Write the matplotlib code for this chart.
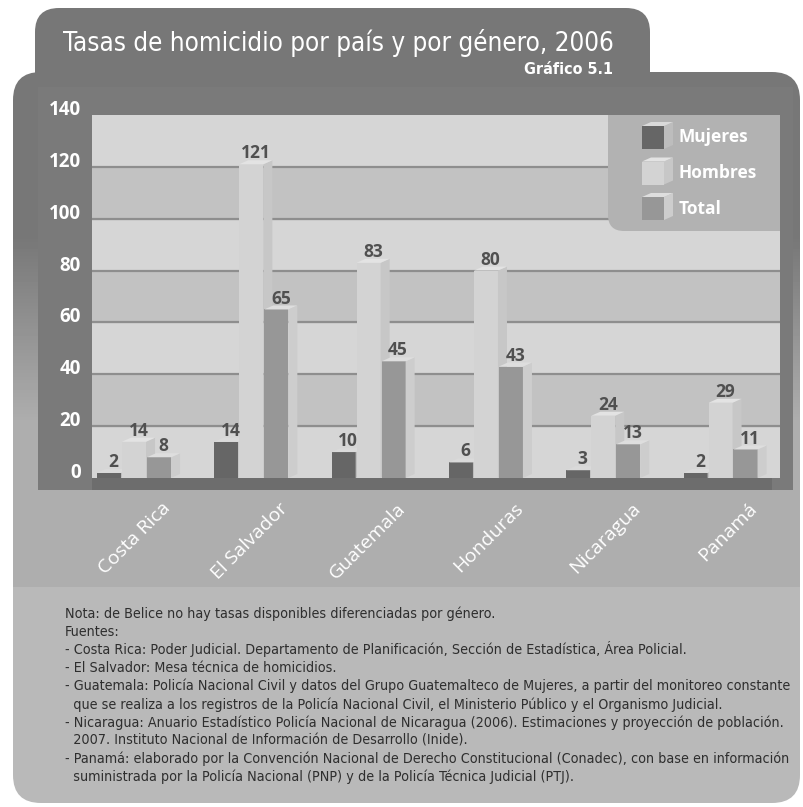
import numpy as np
import matplotlib
matplotlib.use("Agg")
import matplotlib.pyplot as plt
from matplotlib.patches import Rectangle, Polygon, FancyBboxPatch

# datos del gráfico
paises = ["Costa Rica", "El Salvador", "Guatemala", "Honduras", "Nicaragua", "Panamá"]
mujeres = [2, 14, 10, 6, 3, 2]
hombres = [14, 121, 83, 80, 24, 29]
total = [8, 65, 45, 43, 13, 11]
series = ["Mujeres", "Hombres", "Total"]
yticks = [0, 20, 40, 60, 80, 100, 120, 140]

titulo = "Tasas de homicidio por país y por género, 2006"
subtitulo = "Gráfico 5.1"
notas = [
    "Nota: de Belice no hay tasas disponibles diferenciadas por género.",
    "Fuentes:",
    "- Costa Rica: Poder Judicial. Departamento de Planificación, Sección de Estadística, Área Policial.",
    "- El Salvador: Mesa técnica de homicidios.",
    "- Guatemala: Policía Nacional Civil y datos del Grupo Guatemalteco de Mujeres, a partir del monitoreo constante",
    "  que se realiza a los registros de la Policía Nacional Civil, el Ministerio Público y el Organismo Judicial.",
    "- Nicaragua: Anuario Estadístico Policía Nacional de Nicaragua (2006). Estimaciones y proyección de población.",
    "  2007. Instituto Nacional de Información de Desarrollo (Inide).",
    "- Panamá: elaborado por la Convención Nacional de Derecho Constitucional (Conadec), con base en información",
    "  suministrada por la Policía Nacional (PNP) y de la Policía Técnica Judicial (PTJ).",
]

# colores (frente, lado, tapa)
col_front = {"Mujeres": "#666666", "Hombres": "#d3d3d3", "Total": "#979797"}
col_side = {"Mujeres": "#bdbdbd", "Hombres": "#c7c7c7", "Total": "#cdcdcd"}
col_top = {"Mujeres": "#dadada", "Hombres": "#e3e3e3", "Total": "#dedede"}
valores = {"Mujeres": mujeres, "Hombres": hombres, "Total": total}
offset = {"Mujeres": -0.213, "Hombres": 0.0, "Total": 0.213}

NARROW = dict(family="DejaVu Sans", fontstretch="condensed")

W, H = 804, 807
fig = plt.figure(figsize=(W / 100, H / 100), dpi=100)
fig.patch.set_facecolor("white")
renderer = fig.canvas.get_renderer()


def ajustar(textos, ancho_px):
    # escala el tamaño para que el texto más largo mida ancho_px
    w = max(t.get_window_extent(renderer).width for t in textos)
    for t in textos:
        t.set_fontsize(t.get_fontsize() * ancho_px / w)


# fondo en coordenadas de pixel
bg = fig.add_axes([0, 0, 1, 1], zorder=0)
bg.set_xlim(0, W)
bg.set_ylim(H, 0)
bg.axis("off")

tab = FancyBboxPatch((35, 8), 615, 110, boxstyle="round,pad=0,rounding_size=24",
                     fc="#777777", ec="none")
bg.add_patch(tab)

panel = FancyBboxPatch((13, 72), 787, 731, boxstyle="round,pad=0,rounding_size=28",
                       fc="none", ec="none")
bg.add_patch(panel)
rows = np.arange(72, 804)
shade = np.interp(rows, [72, 235, 420, 586, 587, 804], [0.465, 0.465, 0.68, 0.68, 0.725, 0.725])
img = bg.imshow(shade[:, None], extent=(13, 800, 804, 72), cmap="gray", vmin=0, vmax=1,
                aspect="auto", interpolation="nearest")
img.set_clip_path(panel)

bg.add_patch(Rectangle((38, 87), 755, 403, fc="#7a7a7a", ec="none"))
bg.add_patch(Rectangle((92, 478), 680, 12, fc="#6d6d6d", ec="none"))

t_tit = bg.text(63, 51, titulo, color="white", fontsize=22, va="baseline", ha="left", **NARROW)
ajustar([t_tit], 552)
bg.text(613, 74, subtitulo, color="white", fontsize=11.5, fontweight="bold",
        va="baseline", ha="right", **NARROW)

t_notas = []
for i, linea in enumerate(notas):
    t_notas.append(bg.text(65, 618 + i * 18.1, linea, color="#2e2e2e", fontsize=11.5,
                           va="baseline", ha="left", **NARROW))
ajustar(t_notas, 720)

# área del gráfico
ax = fig.add_axes([92 / W, (H - 478) / H, 688 / W, 363 / H], zorder=1)
ax.set_facecolor("#d6d6d6")
ax.set_xlim(-0.358, 5.507)
ax.set_ylim(0, 140)
for k in range(len(yticks) - 1):
    if k % 2 == 1:
        ax.axhspan(yticks[k], yticks[k + 1], color="#c2c2c2", zorder=0)
for t in yticks[1:-1]:
    ax.axhline(t, color="#8e8e8e", lw=1.6, zorder=0.5)

x = np.arange(len(paises))
ancho = 0.205
dx = 0.077
dy = 1.55
for s in series:
    xs = x + offset[s]
    vals = valores[s]
    ax.bar(xs, vals, width=ancho, color=col_front[s], zorder=2)
    for xi, v in zip(xs, vals):
        r = xi + ancho / 2
        l = xi - ancho / 2
        ax.add_patch(Polygon([(r, 0), (r + dx, dy), (r + dx, v + dy), (r, v)],
                             closed=True, fc=col_side[s], ec="none", zorder=2, clip_on=False))
        ax.add_patch(Polygon([(l, v), (l + dx, v + dy), (r + dx, v + dy), (r, v)],
                             closed=True, fc=col_top[s], ec="none", zorder=2, clip_on=False))
        ax.text(xi + dx / 2, v + dy - 0.8, str(v), ha="center", va="bottom",
                color="#505050", fontsize=12.5, fontweight="bold",
                family="Open Sans", zorder=3)

for sp in ax.spines.values():
    sp.set_visible(False)
ax.set_yticks(yticks)
ax.set_yticklabels([str(t) for t in yticks], color="white", fontsize=13.5,
                   fontweight="bold", family="Open Sans", va="baseline")
ax.tick_params(axis="y", length=0, pad=8)
ax.set_xticks(x + 0.29)
ax.set_xticklabels(paises, rotation=45, ha="right", rotation_mode="anchor", va="center",
                   color="white", fontsize=14, family="Open Sans")
ax.tick_params(axis="x", length=0, pad=20)

# leyenda
top = fig.add_axes([0, 0, 1, 1], zorder=2)
top.set_xlim(0, W)
top.set_ylim(H, 0)
top.axis("off")
caja = FancyBboxPatch((608, 95), 200, 136, boxstyle="round,pad=0,rounding_size=16",
                      fc="#b2b2b2", ec="none")
top.add_patch(caja)
caja.set_clip_path(Rectangle((608, 115), 172, 116, transform=top.transData))
for j, s in enumerate(series):
    y0 = 126 + j * 35.5
    top.add_patch(Rectangle((642, y0), 22, 23, fc=col_front[s], ec="none"))
    top.add_patch(Polygon([(664, y0 + 23), (673, y0 + 19), (673, y0 - 4), (664, y0)],
                          closed=True, fc=col_side[s], ec="none"))
    top.add_patch(Polygon([(642, y0), (651, y0 - 4), (673, y0 - 4), (664, y0)],
                          closed=True, fc=col_top[s], ec="none"))
    top.text(679, y0 + 11.5, s, color="white", fontsize=12.5, fontweight="bold",
             family="Open Sans", va="center", ha="left")

fig.savefig("out.png", dpi=100)
